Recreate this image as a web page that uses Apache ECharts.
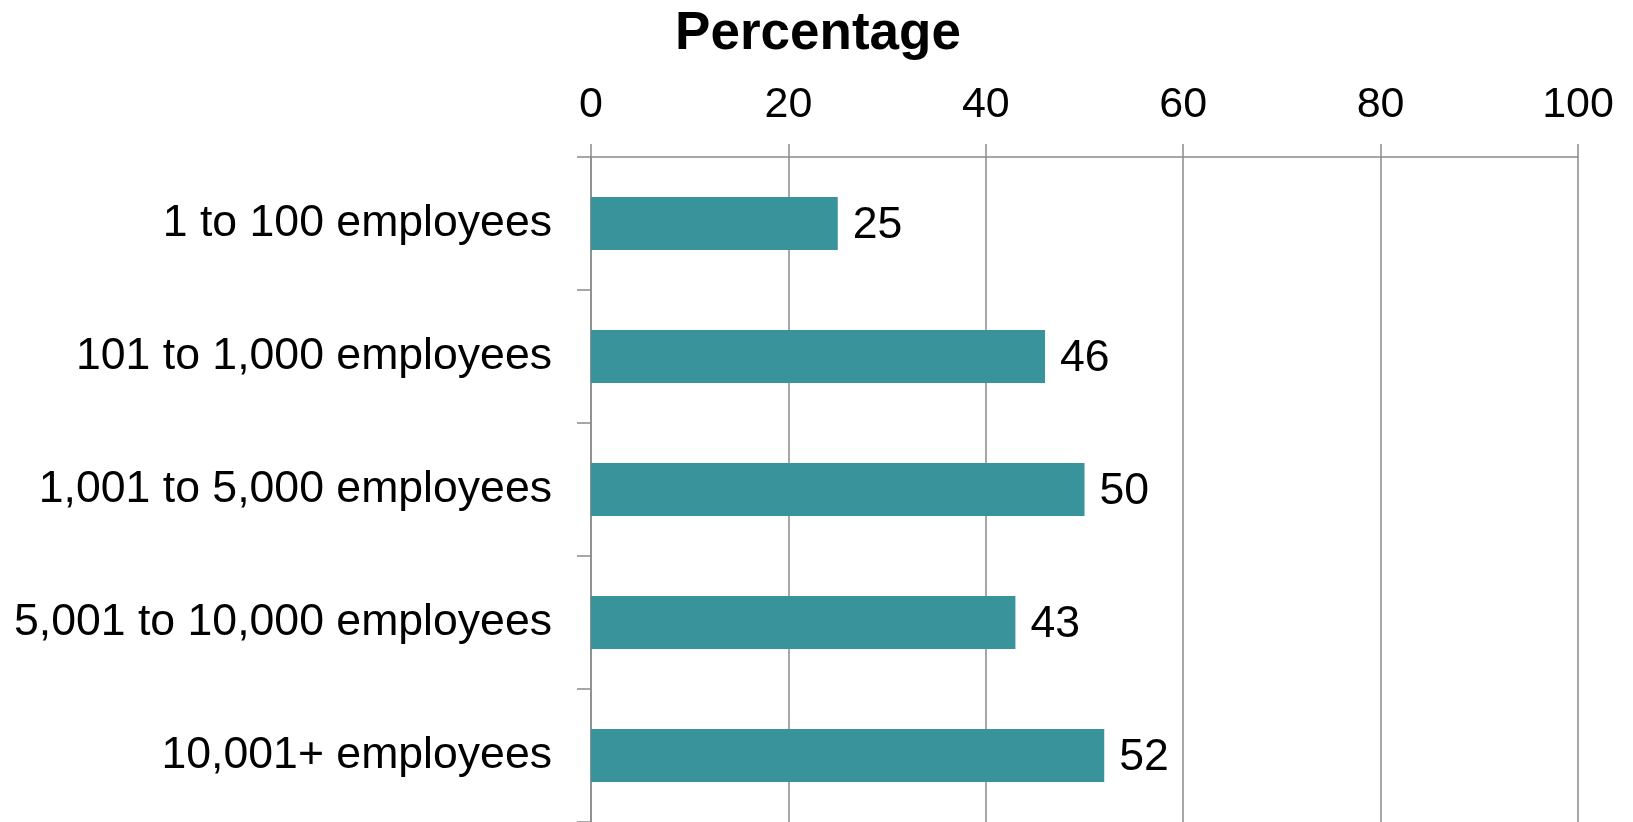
<!DOCTYPE html>
<html>
<head>
<meta charset="utf-8">
<title>Percentage by company size</title>
<script src="https://cdn.jsdelivr.net/npm/echarts@6/dist/echarts.min.js"></script>
<style>
  html, body { margin: 0; padding: 0; background: #ffffff; }
  #chart { width: 1633px; height: 822px; }
</style>
</head>
<body>
<div id="chart"></div>
<script>
// Company size groups, listed top to bottom
const categories = [
  '1 to 100 employees',
  '101 to 1,000 employees',
  '1,001 to 5,000 employees',
  '5,001 to 10,000 employees',
  '10,001+ employees'
];

// Percentage for each group
const percentages = [25, 46, 50, 43, 52];

// Value axis settings
const axisMin = 0;
const axisMax = 100;
const axisStep = 20;

const FONT = '"Liberation Sans", Arial, sans-serif';
const LINE_GREY = '#8a8a8a';
const BAR_TEAL = '#38939a';

const chart = echarts.init(document.getElementById('chart'), null, { renderer: 'canvas' });

chart.setOption({
  animation: false,
  backgroundColor: '#ffffff',
  title: {
    text: 'Percentage',
    left: 813,
    top: 3,
    textAlign: 'center',
    textStyle: {
      fontFamily: FONT,
      fontSize: 53,
      fontWeight: 'bold',
      color: '#000000'
    }
  },
  grid: {
    left: 591,
    right: 55,
    top: 157,
    bottom: -5,
    containLabel: false
  },
  xAxis: {
    type: 'value',
    position: 'top',
    min: axisMin,
    max: axisMax,
    interval: axisStep,
    axisLine: { show: true, lineStyle: { color: LINE_GREY, width: 1.5 } },
    axisTick: { show: true, inside: false, length: 13, lineStyle: { color: LINE_GREY, width: 1.5 } },
    splitLine: { show: true, lineStyle: { color: LINE_GREY, width: 1.5 } },
    axisLabel: {
      margin: 30,
      fontFamily: FONT,
      fontSize: 43,
      color: '#000000'
    }
  },
  yAxis: {
    type: 'category',
    data: categories,
    inverse: true,
    position: 'left',
    axisLine: { show: true, lineStyle: { color: LINE_GREY, width: 1.5 } },
    axisTick: { show: true, inside: false, length: 14, lineStyle: { color: LINE_GREY, width: 1.5 } },
    splitLine: { show: false },
    axisLabel: {
      margin: 39,
      fontFamily: FONT,
      fontSize: 44.6,
      color: '#000000',
      padding: [4, 0, 0, 0]
    }
  },
  series: [{
    type: 'bar',
    data: percentages,
    barWidth: '40%',
    itemStyle: { color: BAR_TEAL },
    label: {
      show: true,
      position: 'right',
      distance: 15,
      offset: [0, 2],
      fontFamily: FONT,
      fontSize: 44.6,
      color: '#000000'
    }
  }]
});
</script>
</body>
</html>
